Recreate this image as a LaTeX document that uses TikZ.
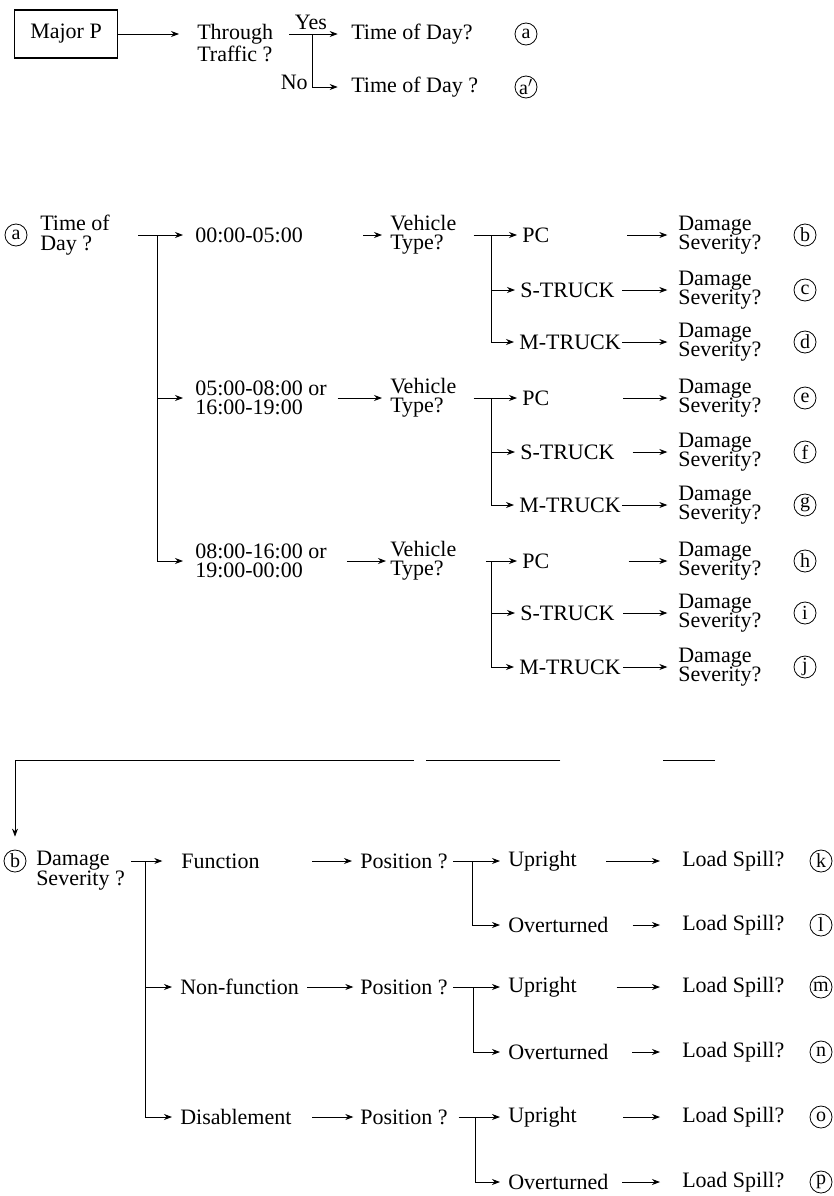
\documentclass[tikz,border=0pt]{standalone}
\usepackage{fontspec}
\setmainfont{Liberation Serif}
\usetikzlibrary{arrows.meta,positioning}
\tikzset{
  txt/.style={inner sep=0pt, align=left, anchor=west,
              font=\fontsize{16.5}{14.5}\selectfont},
  txttop/.style={txt, anchor=north west},
  lbl/.style={draw, circle, line width=0.6pt, minimum size=16.5pt,
              inner sep=0pt, font=\fontsize{15}{15}\selectfont},
  majorbox/.style={draw, line width=0.9pt, minimum width=77pt,
                   minimum height=36pt, inner sep=0pt,
                   font=\fontsize{16.5}{14.5}\selectfont},
  yesno/.style={inner sep=0pt, font=\fontsize{16.5}{14.5}\selectfont},
  arr/.style={-{Stealth[length=6pt,width=4.5pt]}, line width=0.6pt},
}
\begin{document}
\begin{tikzpicture}[x=0.75pt,y=-0.75pt]
  \useasboundingbox (0,0) rectangle (834,1196);

  % top: Major P
  \node[majorbox] (majorp) at (66,34) {Major P};
  \node[txttop] (through) at (197,24) {Through\\ Traffic ?};
  \node[txt] (todyes) at (351,34) {Time of Day?};
  \node[txt] (todno) at (351,87) {Time of Day ?};
  \node[lbl] (ca) at (526,34) {a};
  \node[lbl] (caprime) at (526,87) {a$'$};
  \coordinate (fk0) at (312,34);
  \draw[arr, shorten >=13.5pt] (majorp.east) -- (majorp.east -| through.west);
  \draw[arr, shorten <=12pt, shorten >=10pt] (todyes.west -| through.east) -- (todyes.west);
  \draw[arr, shorten >=10pt] (fk0) |- (todno.west);
  \node[yesno, anchor=base] (yes) at (311,29) {Yes};
  \node[yesno, anchor=base east] (no) at (308,89) {No};

  % time of day
  \node[lbl] (ca2) at (16,235) {a};
  \node[txt] (todmid) at (40,235) {Time of\\Day ?};
  \coordinate (fk1) at (157,235);
  \node[txt] (t1) at (195,235) {00:00-05:00};
  \node[txt] (t2) at (195,398) {05:00-08:00 or\\16:00-19:00};
  \node[txt] (t3) at (195,561) {08:00-16:00 or\\19:00-00:00};
  \draw[arr, shorten <=21pt, shorten >=9pt] (todmid.east) -- (t1.west);
  \draw[arr, shorten >=9pt] (fk1) |- (t2.west);
  \draw[arr, shorten >=9pt] (fk1) |- (t3.west);

  \node[txt] (vt1) at (390,235) {Vehicle\\Type?};
  \node[txt] (vt2) at (390,398) {Vehicle\\Type?};
  \node[txt] (vt3) at (390,561) {Vehicle\\Type?};
  \draw[arr] ([xshift=-20pt]vt1.west) -- ([xshift=-6pt]vt1.west);
  \draw[arr, shorten <=8pt, shorten >=6pt] (t2.east) -- (vt2.west);
  \draw[arr, shorten <=15pt, shorten >=3pt] (t3.east) -- (vt3.west);

  % vehicle group 1
  \coordinate (fv1) at (491,235);
  \node[txt] (pc1) at (522,235) {PC};
  \node[txt] (st1) at (520,290) {S-TRUCK};
  \node[txt] (mt1) at (519,342) {M-TRUCK};
  \draw[arr, shorten <=12.75pt, shorten >=3.75pt] (vt1.east) -- (pc1.west);
  \draw[arr, shorten >=3.75pt] (fv1) |- (st1.west);
  \draw[arr, shorten >=3.75pt] (fv1) |- (mt1.west);
  \node[txt] (ds1) at (678,235) {Damage\\Severity?};
  \node[txt] (ds2) at (678,290) {Damage\\Severity?};
  \node[txt] (ds3) at (678,342) {Damage\\Severity?};
  \draw[arr] ([xshift=-38pt]ds1.west) -- ([xshift=-8pt]ds1.west);
  \draw[arr] ([xshift=-42pt]ds2.west) -- ([xshift=-8pt]ds2.west);
  \draw[arr] ([xshift=-42pt]ds3.west) -- ([xshift=-8pt]ds3.west);
  \node[lbl] (cb) at (805,235) {b};
  \node[lbl] (cc) at (805,290) {c};
  \node[lbl] (cd) at (805,342) {d};

  % vehicle group 2
  \coordinate (fv2) at (491,398);
  \node[txt] (pc2) at (522,398) {PC};
  \node[txt] (st2) at (520,452) {S-TRUCK};
  \node[txt] (mt2) at (519,505) {M-TRUCK};
  \draw[arr, shorten <=12.75pt, shorten >=3.75pt] (vt2.east) -- (pc2.west);
  \draw[arr, shorten >=3.75pt] (fv2) |- (st2.west);
  \draw[arr, shorten >=3.75pt] (fv2) |- (mt2.west);
  \node[txt] (ds4) at (678,398) {Damage\\Severity?};
  \node[txt] (ds5) at (678,452) {Damage\\Severity?};
  \node[txt] (ds6) at (678,505) {Damage\\Severity?};
  \draw[arr] ([xshift=-41pt]ds4.west) -- ([xshift=-8pt]ds4.west);
  \draw[arr] ([xshift=-34pt]ds5.west) -- ([xshift=-8pt]ds5.west);
  \draw[arr] ([xshift=-42pt]ds6.west) -- ([xshift=-8pt]ds6.west);
  \node[lbl] (ce) at (805,398) {e};
  \node[lbl] (cf) at (805,452) {f};
  \node[lbl] (cg) at (805,505) {g};

  % vehicle group 3
  \coordinate (fv3) at (491,561);
  \node[txt] (pc3) at (522,561) {PC};
  \node[txt] (st3) at (520,613) {S-TRUCK};
  \node[txt] (mt3) at (519,667) {M-TRUCK};
  \draw[arr, shorten <=22pt, shorten >=3.75pt] (vt3.east) -- (pc3.west);
  \draw[arr, shorten >=3.75pt] (fv3) |- (st3.west);
  \draw[arr, shorten >=3.75pt] (fv3) |- (mt3.west);
  \node[txt] (ds7) at (678,561) {Damage\\Severity?};
  \node[txt] (ds8) at (678,613) {Damage\\Severity?};
  \node[txt] (ds9) at (678,667) {Damage\\Severity?};
  \draw[arr] ([xshift=-37pt]ds7.west) -- ([xshift=-8pt]ds7.west);
  \draw[arr] ([xshift=-41pt]ds8.west) -- ([xshift=-8pt]ds8.west);
  \draw[arr] ([xshift=-41pt]ds9.west) -- ([xshift=-8pt]ds9.west);
  \node[lbl] (ch) at (805,561) {h};
  \node[lbl] (ci) at (805,613) {i};
  \node[lbl] (cj) at (805,667) {j};

  % damage severity b
  \coordinate (brk) at (715,760);
  \node[lbl] (cb2) at (15,861) {b};
  \draw[arr, dash pattern=on 39pt off 77pt on 101pt off 9pt on 900pt]
    (brk) -| ([yshift=9.75pt]cb2.north);
  \node[txttop] (dsb) at (36,851) {Damage\\Severity ?};
  \coordinate (fd) at (145,861);
  \node[txt] (fn) at (181,861) {Function};
  \node[txt] (nfn) at (180,987) {Non-function};
  \node[txt] (dis) at (180,1117) {Disablement};
  \draw[arr, shorten <=4.5pt, shorten >=14pt] (fn.west -| dsb.east) -- (fn.west);
  \draw[arr, shorten >=6pt] (fd) |- (nfn.west);
  \draw[arr, shorten >=6pt] (fd) |- (dis.west);

  \node[txt] (pos1) at (360,861) {Position ?};
  \node[txt] (pos2) at (360,987) {Position ?};
  \node[txt] (pos3) at (360,1117) {Position ?};
  \draw[arr] ([xshift=-36pt]pos1.west) -- ([xshift=-6pt]pos1.west);
  \draw[arr, shorten <=6pt, shorten >=5pt] (nfn.east) -- (pos2.west);
  \draw[arr] ([xshift=-36pt]pos3.west) -- ([xshift=-5pt]pos3.west);

  \coordinate (fp1) at (472,861);
  \coordinate (fp2) at (473,987);
  \coordinate (fp3) at (475,1117);
  \node[txt] (up1) at (508,861) {Upright};
  \node[txt] (ov1) at (508,925) {Overturned};
  \node[txt] (up2) at (508,987) {Upright};
  \node[txt] (ov2) at (508,1052) {Overturned};
  \node[txt] (up3) at (508,1117) {Upright};
  \node[txt] (ov3) at (508,1182) {Overturned};
  \draw[arr, shorten <=4pt, shorten >=6pt] (pos1.east) -- (up1.west);
  \draw[arr, shorten >=6pt] (fp1) |- (ov1.west);
  \draw[arr, shorten <=4pt, shorten >=6pt] (pos2.east) -- (up2.west);
  \draw[arr, shorten >=6pt] (fp2) |- (ov2.west);
  \draw[arr, shorten <=8pt, shorten >=6pt] (pos3.east) -- (up3.west);
  \draw[arr, shorten >=6pt] (fp3) |- (ov3.west);

  \node[txt] (ls1) at (682,861) {Load Spill?};
  \node[txt] (ls2) at (682,925) {Load Spill?};
  \node[txt] (ls3) at (682,987) {Load Spill?};
  \node[txt] (ls4) at (682,1052) {Load Spill?};
  \node[txt] (ls5) at (682,1117) {Load Spill?};
  \node[txt] (ls6) at (682,1182) {Load Spill?};
  \draw[arr] ([xshift=-57pt]ls1.west) -- ([xshift=-16.5pt]ls1.west);
  \draw[arr] ([xshift=-37pt]ls2.west) -- ([xshift=-16.5pt]ls2.west);
  \draw[arr] ([xshift=-49pt]ls3.west) -- ([xshift=-16.5pt]ls3.west);
  \draw[arr] ([xshift=-37.5pt]ls4.west) -- ([xshift=-16.5pt]ls4.west);
  \draw[arr] ([xshift=-44pt]ls5.west) -- ([xshift=-16.5pt]ls5.west);
  \draw[arr] ([xshift=-45pt]ls6.west) -- ([xshift=-16.5pt]ls6.west);
  \node[lbl] (ck) at (821,861) {k};
  \node[lbl] (cl) at (821,925) {l};
  \node[lbl] (cm) at (821,987) {m};
  \node[lbl] (cn) at (821,1052) {n};
  \node[lbl] (co) at (821,1117) {o};
  \node[lbl] (cp) at (821,1182) {p};
\end{tikzpicture}
\end{document}
